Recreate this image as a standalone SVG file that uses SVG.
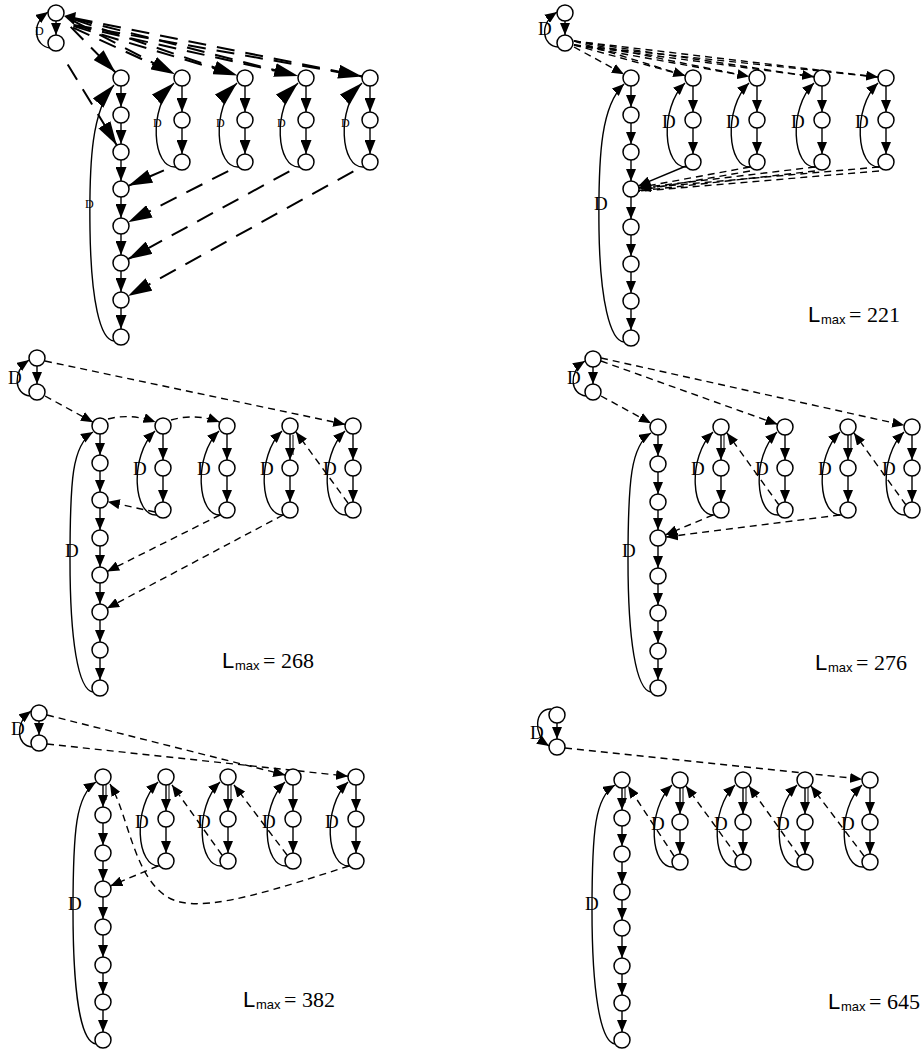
<svg xmlns="http://www.w3.org/2000/svg" width="924" height="1053" viewBox="0 0 924 1053">
<style>
.n{fill:#fff;stroke:#000;stroke-width:1.5}
.e{fill:none;stroke:#000;stroke-width:1.4}
.d{stroke-dasharray:7 5}
.d1{stroke-dasharray:18 11;stroke-dashoffset:18;stroke-width:2}
.t{stroke-width:1}
.ha{marker-end:url(#ma)}
.hb{marker-end:url(#mb)}
.hc{marker-end:url(#mc)}
.D{font-family:"Liberation Serif",serif;font-size:19px;fill:#000}
.sD{font-family:"Liberation Serif",serif;font-size:12px;fill:#000}
.L{font-family:"Liberation Sans",sans-serif;font-size:22px}
.sub{font-family:"Liberation Sans",sans-serif;font-size:13px}
.num{font-family:"Liberation Serif",serif;font-size:22px}
</style>
<defs>
<marker id="ma" viewBox="0 0 12 10" refX="12" refY="5" markerWidth="12" markerHeight="10" markerUnits="userSpaceOnUse" orient="auto"><path d="M0,0 L12,5 L0,10 z" fill="#000"/></marker>
<marker id="mb" viewBox="0 0 24 14" refX="24" refY="7" markerWidth="24" markerHeight="14" markerUnits="userSpaceOnUse" orient="auto"><path d="M0,0 L24,7 L0,14 z" fill="#000"/></marker>
<marker id="mc" viewBox="0 0 14 11" refX="14" refY="5.5" markerWidth="14" markerHeight="11" markerUnits="userSpaceOnUse" orient="auto"><path d="M0,0 L14,5.5 L0,11 z" fill="#000"/></marker>
</defs>
<rect width="924" height="1053" fill="#fff"/>

<g id="connectors">
<!-- Panel 1 -->
<g id="p1-edges">
<path class="e hc" d="M121,86V107"/>
<path class="e hc" d="M121,123V144"/>
<path class="e hc" d="M121,160V181"/>
<path class="e hc" d="M121,197V218"/>
<path class="e hc" d="M121,234V255"/>
<path class="e hc" d="M121,271V292"/>
<path class="e hc" d="M121,308V329"/>
<path class="e hc" d="M182,86V112"/><path class="e hc" d="M182,128V154"/>
<path class="e hc" d="M245,86V112"/><path class="e hc" d="M245,128V154"/>
<path class="e hc" d="M306,86V112"/><path class="e hc" d="M306,128V154"/>
<path class="e hc" d="M370,86V112"/><path class="e hc" d="M370,128V154"/>
<path class="e ha" d="M56,21V35"/>
<path class="e ha" d="M50,48 C35,46 30,25 48,12"/>
<path class="e hb" d="M114,341 C100,340 91,300 90,230 C89,160 92,110 114,85"/>
<path class="e hb" d="M176,167 C152,169 148,108 174,83"/>
<path class="e hb" d="M239,167 C215,169 211,108 237,83"/>
<path class="e hb" d="M300,167 C276,169 272,108 298,83"/>
<path class="e hb" d="M364,167 C340,169 336,108 362,83"/>
<path class="e d1 hb" d="M63,19 L115.4,72.3"/>
<path class="e d1 hb" d="M64,16 L174.9,74.3"/>
<path class="e d1 hb" d="M64,16 L237.4,75.4"/>
<path class="e d1 hb" d="M64,16 L298.2,76"/>
<path class="e d1 hb" d="M64,16 L362.2,76.4"/>
<path class="e d1" d="M63,23 L174.9,74.3"/>
<path class="e d1" d="M63,23 L237.4,75.4"/>
<path class="e d1" d="M63,23 L298.2,76"/>
<path class="e d1" d="M63,23 L362.2,76.4"/>
<path class="e d1 hb" d="M62,55 L116.8,145.2"/>
<path class="e d1 hb" d="M174,166 L128.3,185.8"/>
<path class="e d1 hb" d="M238,166 L128.1,222.3"/>
<path class="e d1 hb" d="M299,166 L128,259.2"/>
<path class="e d1 hb" d="M363,166 L128,296.1"/>
<polygon points="64,16 76,12 74,25" fill="#000"/>
</g>
<!-- Panel 2 -->
<g id="p2-edges">
<path class="e ha" d="M631,86V107"/><path class="e ha" d="M631,123V144"/><path class="e ha" d="M631,160V181"/><path class="e ha" d="M631,197V219"/>
<path class="e ha" d="M631,235V256"/><path class="e ha" d="M631,272V293"/><path class="e ha" d="M631,309V330"/>
<path class="e ha" d="M693,86V112"/><path class="e ha" d="M693,128V154"/>
<path class="e ha" d="M757,86V112"/><path class="e ha" d="M757,128V154"/>
<path class="e ha" d="M822,86V112"/><path class="e ha" d="M822,128V154"/>
<path class="e ha" d="M886,86V112"/><path class="e ha" d="M886,128V154"/>
<path class="e ha" d="M565,21V35"/>
<path class="e ha" d="M558,47 C543,46 538,25 557,12"/>
<path class="e ha" d="M624,342 C610,341 600,300 599,230 C598,150 602,105 624,84"/>
<path class="e ha" d="M687,167 C663,169 659,108 685,83"/>
<path class="e ha" d="M751,167 C727,169 723,108 749,83"/>
<path class="e ha" d="M816,167 C792,169 788,108 814,83"/>
<path class="e ha" d="M880,167 C856,169 852,108 878,83"/>
<path class="e d ha" d="M574,47 L623.9,74.2"/>
<path class="e d ha" d="M574,41 L685.3,75.7"/><path class="e d" d="M574,45 L685.3,75.7"/>
<path class="e d ha" d="M574,41 L749.2,76.5"/><path class="e d" d="M574,45 L749.2,76.5"/>
<path class="e d ha" d="M574,41 L814.1,76.8"/><path class="e d" d="M574,45 L814.1,76.8"/>
<path class="e d ha" d="M574,41 L878.1,77.1"/><path class="e d" d="M574,45 L878.1,77.1"/>
<path class="e ha" d="M686,166 L638.4,185.9"/>
<path class="e d ha" d="M750,167 L638.9,187.5"/><path class="e d" d="M750,171 L638.9,190.5"/>
<path class="e d ha" d="M815,167 L638.9,188"/><path class="e d" d="M815,171 L638.9,191"/>
<path class="e d ha" d="M879,167 L639,188.3"/><path class="e d" d="M879,171 L639,191.3"/>
</g>
<!-- Panel 3 -->
<g id="p3-edges">
<path class="e ha" d="M100,434V455"/><path class="e ha" d="M100,471V492"/><path class="e ha" d="M100,508V530"/><path class="e ha" d="M100,546V567"/>
<path class="e ha" d="M100,583V604"/><path class="e ha" d="M100,620V642"/><path class="e ha" d="M100,658V680"/>
<path class="e ha" d="M163,434V460"/><path class="e ha" d="M163,476V502"/>
<path class="e ha" d="M227,434V460"/><path class="e ha" d="M227,476V502"/>
<path class="e ha" d="M290,434V460"/><path class="e ha" d="M290,476V502"/>
<path class="e ha" d="M353,434V460"/><path class="e ha" d="M353,476V502"/>
<path class="e ha" d="M37,366V384"/>
<path class="e ha" d="M30,396 C14,394 12,372 29,360"/>
<path class="e ha" d="M93,692 C78,690 70,640 70,560 C70,480 72,445 93,432"/>
<path class="e ha" d="M157,515 C133,517 129,456 155,431"/>
<path class="e ha" d="M221,515 C197,517 193,456 219,431"/>
<path class="e ha" d="M284,515 C260,517 256,456 282,431"/>
<path class="e ha" d="M347,515 C323,517 319,456 345,431"/>
<path class="e d ha" d="M45,361 L345.2,424.4"/>
<path class="e d ha" d="M45,396 L93,422.2"/>
<path class="e d ha" d="M108,419 Q130,413 155.5,422"/>
<path class="e d ha" d="M171,420 Q195,413 219.5,422"/>
<path class="e d ha" d="M348,503 L296,432"/>
<path class="e d ha" d="M155,512 L107.8,501.7"/>
<path class="e d ha" d="M220,515 L107.2,571.4"/>
<path class="e d ha" d="M283,515 L107.1,608.3"/>
<path class="e t" d="M293,435V455"/>
</g>
<!-- Panel 4 -->
<g id="p4-edges">
<path class="e ha" d="M658,435V456"/><path class="e ha" d="M658,472V494"/><path class="e ha" d="M658,510V530"/><path class="e ha" d="M658,546V568"/>
<path class="e ha" d="M658,584V605"/><path class="e ha" d="M658,621V643"/><path class="e ha" d="M658,659V680"/>
<path class="e ha" d="M721,435V460"/><path class="e ha" d="M721,476V502"/>
<path class="e ha" d="M785,435V460"/><path class="e ha" d="M785,476V502"/>
<path class="e ha" d="M848,435V460"/><path class="e ha" d="M848,476V502"/>
<path class="e ha" d="M912,435V460"/><path class="e ha" d="M912,476V502"/>
<path class="e ha" d="M593,367V384"/>
<path class="e ha" d="M586,396 C570,394 568,372 585,361"/>
<path class="e ha" d="M651,692 C636,690 628,640 628,560 C628,480 631,445 651,433"/>
<path class="e ha" d="M715,515 C691,517 687,457 713,432"/>
<path class="e ha" d="M779,515 C755,517 751,457 777,432"/>
<path class="e ha" d="M842,515 C818,517 814,457 840,432"/>
<path class="e ha" d="M906,515 C882,517 878,457 904,432"/>
<path class="e d ha" d="M601,361 L777.5,424.3"/>
<path class="e d ha" d="M601,358 L904.2,425.3"/>
<path class="e d ha" d="M601,396 L651,423.2"/>
<path class="e d ha" d="M779,505 L727,433"/>
<path class="e d ha" d="M906,505 L854,433"/>
<path class="e d ha" d="M713,515 L665.4,534.9"/>
<path class="e d ha" d="M840,515 L665.9,537"/>
<path class="e t" d="M724,435V452"/><path class="e t" d="M851,435V452"/>
</g>
<!-- Panel 5 -->
<g id="p5-edges">
<path class="e ha" d="M103,785V807"/><path class="e ha" d="M103,823V845"/><path class="e ha" d="M103,861V881"/><path class="e ha" d="M103,897V919"/>
<path class="e ha" d="M103,935V957"/><path class="e ha" d="M103,973V994"/><path class="e ha" d="M103,1010V1032"/>
<path class="e ha" d="M166,785V811"/><path class="e ha" d="M166,827V853"/>
<path class="e ha" d="M228,785V811"/><path class="e ha" d="M228,827V853"/>
<path class="e ha" d="M293,785V811"/><path class="e ha" d="M293,827V853"/>
<path class="e ha" d="M356,785V811"/><path class="e ha" d="M356,827V853"/>
<path class="e ha" d="M39,721V735"/>
<path class="e ha" d="M32,747 C17,746 14,724 31,711"/>
<path class="e ha" d="M96,1044 C80,1042 73,990 73,910 C73,830 76,795 96,782"/>
<path class="e ha" d="M160,866 C136,868 132,807 158,782"/>
<path class="e ha" d="M222,866 C198,868 194,807 220,782"/>
<path class="e ha" d="M287,866 C263,868 259,807 285,782"/>
<path class="e ha" d="M350,866 C326,868 322,807 348,782"/>
<path class="e d ha" d="M47,715 L285.2,775"/>
<path class="e d ha" d="M47,744 L348,776.2"/>
<path class="e d ha" d="M349,866 C280,888 215,910 180,902 C150,895 138,860 128,830 C122,812 118,798 110,784"/>
<path class="e d ha" d="M158,866 L110.4,885.9"/>
<path class="e d ha" d="M222,855 L172,785"/>
<path class="e d ha" d="M287,855 L234,785"/>
<path class="e t" d="M106,785V800"/><path class="e t" d="M169,785V800"/><path class="e t" d="M231,785V800"/>
</g>
<!-- Panel 6 -->
<g id="p6-edges">
<path class="e ha" d="M622,788V810"/><path class="e ha" d="M622,826V846"/><path class="e ha" d="M622,862V884"/><path class="e ha" d="M622,900V920"/>
<path class="e ha" d="M622,936V958"/><path class="e ha" d="M622,974V995"/><path class="e ha" d="M622,1011V1032"/>
<path class="e ha" d="M680,788V814"/><path class="e ha" d="M680,830V854"/>
<path class="e ha" d="M743,788V814"/><path class="e ha" d="M743,830V854"/>
<path class="e ha" d="M805,788V814"/><path class="e ha" d="M805,830V854"/>
<path class="e ha" d="M870,788V814"/><path class="e ha" d="M870,830V854"/>
<path class="e ha" d="M557,723V739"/>
<path class="e ha" d="M551,709 C535,708 532,735 549,746"/>
<path class="e ha" d="M615,1044 C600,1042 592,990 592,910 C592,830 595,797 615,785"/>
<path class="e ha" d="M674,867 C650,869 646,810 672,785"/>
<path class="e ha" d="M737,867 C713,869 709,810 735,785"/>
<path class="e ha" d="M799,867 C775,869 771,810 797,785"/>
<path class="e ha" d="M864,867 C840,869 836,810 862,785"/>
<path class="e d ha" d="M565,748 L862,779.2"/>
<path class="e d ha" d="M674,856 L628,786"/>
<path class="e d ha" d="M737,856 L686,786"/>
<path class="e d ha" d="M799,856 L749,786"/>
<path class="e d ha" d="M864,856 L811,786"/>
<path class="e t" d="M625,788V803"/><path class="e t" d="M683,788V803"/><path class="e t" d="M746,788V803"/><path class="e t" d="M808,788V803"/>
</g>
</g>

<g id="nodes">
<!-- Panel 1 -->
<g id="p1-a"><circle class="n" cx="56" cy="13" r="8"/></g>
<g id="p1-b"><circle class="n" cx="56" cy="43" r="8"/></g>
<g id="p1-c1-1"><circle class="n" cx="121" cy="78" r="8"/></g>
<g id="p1-c1-2"><circle class="n" cx="121" cy="115" r="8"/></g>
<g id="p1-c1-3"><circle class="n" cx="121" cy="152" r="8"/></g>
<g id="p1-c1-4"><circle class="n" cx="121" cy="189" r="8"/></g>
<g id="p1-c1-5"><circle class="n" cx="121" cy="226" r="8"/></g>
<g id="p1-c1-6"><circle class="n" cx="121" cy="263" r="8"/></g>
<g id="p1-c1-7"><circle class="n" cx="121" cy="300" r="8"/></g>
<g id="p1-c1-8"><circle class="n" cx="121" cy="337" r="8"/></g>
<g id="p1-c2-1"><circle class="n" cx="182" cy="78" r="8"/></g>
<g id="p1-c2-2"><circle class="n" cx="182" cy="120" r="8"/></g>
<g id="p1-c2-3"><circle class="n" cx="182" cy="162" r="8"/></g>
<g id="p1-c3-1"><circle class="n" cx="245" cy="78" r="8"/></g>
<g id="p1-c3-2"><circle class="n" cx="245" cy="120" r="8"/></g>
<g id="p1-c3-3"><circle class="n" cx="245" cy="162" r="8"/></g>
<g id="p1-c4-1"><circle class="n" cx="306" cy="78" r="8"/></g>
<g id="p1-c4-2"><circle class="n" cx="306" cy="120" r="8"/></g>
<g id="p1-c4-3"><circle class="n" cx="306" cy="162" r="8"/></g>
<g id="p1-c5-1"><circle class="n" cx="370" cy="78" r="8"/></g>
<g id="p1-c5-2"><circle class="n" cx="370" cy="120" r="8"/></g>
<g id="p1-c5-3"><circle class="n" cx="370" cy="162" r="8"/></g>
<!-- Panel 2 -->
<g id="p2-a"><circle class="n" cx="565" cy="13" r="8"/></g>
<g id="p2-b"><circle class="n" cx="565" cy="43" r="8"/></g>
<g id="p2-c1-1"><circle class="n" cx="631" cy="78" r="8"/></g>
<g id="p2-c1-2"><circle class="n" cx="631" cy="115" r="8"/></g>
<g id="p2-c1-3"><circle class="n" cx="631" cy="152" r="8"/></g>
<g id="p2-c1-4"><circle class="n" cx="631" cy="189" r="8"/></g>
<g id="p2-c1-5"><circle class="n" cx="631" cy="227" r="8"/></g>
<g id="p2-c1-6"><circle class="n" cx="631" cy="264" r="8"/></g>
<g id="p2-c1-7"><circle class="n" cx="631" cy="301" r="8"/></g>
<g id="p2-c1-8"><circle class="n" cx="631" cy="338" r="8"/></g>
<g id="p2-c2-1"><circle class="n" cx="693" cy="78" r="8"/></g>
<g id="p2-c2-2"><circle class="n" cx="693" cy="120" r="8"/></g>
<g id="p2-c2-3"><circle class="n" cx="693" cy="162" r="8"/></g>
<g id="p2-c3-1"><circle class="n" cx="757" cy="78" r="8"/></g>
<g id="p2-c3-2"><circle class="n" cx="757" cy="120" r="8"/></g>
<g id="p2-c3-3"><circle class="n" cx="757" cy="162" r="8"/></g>
<g id="p2-c4-1"><circle class="n" cx="822" cy="78" r="8"/></g>
<g id="p2-c4-2"><circle class="n" cx="822" cy="120" r="8"/></g>
<g id="p2-c4-3"><circle class="n" cx="822" cy="162" r="8"/></g>
<g id="p2-c5-1"><circle class="n" cx="886" cy="78" r="8"/></g>
<g id="p2-c5-2"><circle class="n" cx="886" cy="120" r="8"/></g>
<g id="p2-c5-3"><circle class="n" cx="886" cy="162" r="8"/></g>
<!-- Panel 3 -->
<g id="p3-a"><circle class="n" cx="37" cy="358" r="8"/></g>
<g id="p3-b"><circle class="n" cx="37" cy="392" r="8"/></g>
<g id="p3-c1-1"><circle class="n" cx="100" cy="426" r="8"/></g>
<g id="p3-c1-2"><circle class="n" cx="100" cy="463" r="8"/></g>
<g id="p3-c1-3"><circle class="n" cx="100" cy="500" r="8"/></g>
<g id="p3-c1-4"><circle class="n" cx="100" cy="538" r="8"/></g>
<g id="p3-c1-5"><circle class="n" cx="100" cy="575" r="8"/></g>
<g id="p3-c1-6"><circle class="n" cx="100" cy="612" r="8"/></g>
<g id="p3-c1-7"><circle class="n" cx="100" cy="650" r="8"/></g>
<g id="p3-c1-8"><circle class="n" cx="100" cy="688" r="8"/></g>
<g id="p3-c2-1"><circle class="n" cx="163" cy="426" r="8"/></g>
<g id="p3-c2-2"><circle class="n" cx="163" cy="468" r="8"/></g>
<g id="p3-c2-3"><circle class="n" cx="163" cy="510" r="8"/></g>
<g id="p3-c3-1"><circle class="n" cx="227" cy="426" r="8"/></g>
<g id="p3-c3-2"><circle class="n" cx="227" cy="468" r="8"/></g>
<g id="p3-c3-3"><circle class="n" cx="227" cy="510" r="8"/></g>
<g id="p3-c4-1"><circle class="n" cx="290" cy="426" r="8"/></g>
<g id="p3-c4-2"><circle class="n" cx="290" cy="468" r="8"/></g>
<g id="p3-c4-3"><circle class="n" cx="290" cy="510" r="8"/></g>
<g id="p3-c5-1"><circle class="n" cx="353" cy="426" r="8"/></g>
<g id="p3-c5-2"><circle class="n" cx="353" cy="468" r="8"/></g>
<g id="p3-c5-3"><circle class="n" cx="353" cy="510" r="8"/></g>
<!-- Panel 4 -->
<g id="p4-a"><circle class="n" cx="593" cy="359" r="8"/></g>
<g id="p4-b"><circle class="n" cx="593" cy="392" r="8"/></g>
<g id="p4-c1-1"><circle class="n" cx="658" cy="427" r="8"/></g>
<g id="p4-c1-2"><circle class="n" cx="658" cy="464" r="8"/></g>
<g id="p4-c1-3"><circle class="n" cx="658" cy="502" r="8"/></g>
<g id="p4-c1-4"><circle class="n" cx="658" cy="538" r="8"/></g>
<g id="p4-c1-5"><circle class="n" cx="658" cy="576" r="8"/></g>
<g id="p4-c1-6"><circle class="n" cx="658" cy="613" r="8"/></g>
<g id="p4-c1-7"><circle class="n" cx="658" cy="651" r="8"/></g>
<g id="p4-c1-8"><circle class="n" cx="658" cy="688" r="8"/></g>
<g id="p4-c2-1"><circle class="n" cx="721" cy="427" r="8"/></g>
<g id="p4-c2-2"><circle class="n" cx="721" cy="468" r="8"/></g>
<g id="p4-c2-3"><circle class="n" cx="721" cy="510" r="8"/></g>
<g id="p4-c3-1"><circle class="n" cx="785" cy="427" r="8"/></g>
<g id="p4-c3-2"><circle class="n" cx="785" cy="468" r="8"/></g>
<g id="p4-c3-3"><circle class="n" cx="785" cy="510" r="8"/></g>
<g id="p4-c4-1"><circle class="n" cx="848" cy="427" r="8"/></g>
<g id="p4-c4-2"><circle class="n" cx="848" cy="468" r="8"/></g>
<g id="p4-c4-3"><circle class="n" cx="848" cy="510" r="8"/></g>
<g id="p4-c5-1"><circle class="n" cx="912" cy="427" r="8"/></g>
<g id="p4-c5-2"><circle class="n" cx="912" cy="468" r="8"/></g>
<g id="p4-c5-3"><circle class="n" cx="912" cy="510" r="8"/></g>
<!-- Panel 5 -->
<g id="p5-a"><circle class="n" cx="39" cy="713" r="8"/></g>
<g id="p5-b"><circle class="n" cx="39" cy="743" r="8"/></g>
<g id="p5-c1-1"><circle class="n" cx="103" cy="777" r="8"/></g>
<g id="p5-c1-2"><circle class="n" cx="103" cy="815" r="8"/></g>
<g id="p5-c1-3"><circle class="n" cx="103" cy="853" r="8"/></g>
<g id="p5-c1-4"><circle class="n" cx="103" cy="889" r="8"/></g>
<g id="p5-c1-5"><circle class="n" cx="103" cy="927" r="8"/></g>
<g id="p5-c1-6"><circle class="n" cx="103" cy="965" r="8"/></g>
<g id="p5-c1-7"><circle class="n" cx="103" cy="1002" r="8"/></g>
<g id="p5-c1-8"><circle class="n" cx="103" cy="1040" r="8"/></g>
<g id="p5-c2-1"><circle class="n" cx="166" cy="777" r="8"/></g>
<g id="p5-c2-2"><circle class="n" cx="166" cy="819" r="8"/></g>
<g id="p5-c2-3"><circle class="n" cx="166" cy="861" r="8"/></g>
<g id="p5-c3-1"><circle class="n" cx="228" cy="777" r="8"/></g>
<g id="p5-c3-2"><circle class="n" cx="228" cy="819" r="8"/></g>
<g id="p5-c3-3"><circle class="n" cx="228" cy="861" r="8"/></g>
<g id="p5-c4-1"><circle class="n" cx="293" cy="777" r="8"/></g>
<g id="p5-c4-2"><circle class="n" cx="293" cy="819" r="8"/></g>
<g id="p5-c4-3"><circle class="n" cx="293" cy="861" r="8"/></g>
<g id="p5-c5-1"><circle class="n" cx="356" cy="777" r="8"/></g>
<g id="p5-c5-2"><circle class="n" cx="356" cy="819" r="8"/></g>
<g id="p5-c5-3"><circle class="n" cx="356" cy="861" r="8"/></g>
<!-- Panel 6 -->
<g id="p6-a"><circle class="n" cx="557" cy="715" r="8"/></g>
<g id="p6-b"><circle class="n" cx="557" cy="747" r="8"/></g>
<g id="p6-c1-1"><circle class="n" cx="622" cy="780" r="8"/></g>
<g id="p6-c1-2"><circle class="n" cx="622" cy="818" r="8"/></g>
<g id="p6-c1-3"><circle class="n" cx="622" cy="854" r="8"/></g>
<g id="p6-c1-4"><circle class="n" cx="622" cy="892" r="8"/></g>
<g id="p6-c1-5"><circle class="n" cx="622" cy="928" r="8"/></g>
<g id="p6-c1-6"><circle class="n" cx="622" cy="966" r="8"/></g>
<g id="p6-c1-7"><circle class="n" cx="622" cy="1003" r="8"/></g>
<g id="p6-c1-8"><circle class="n" cx="622" cy="1040" r="8"/></g>
<g id="p6-c2-1"><circle class="n" cx="680" cy="780" r="8"/></g>
<g id="p6-c2-2"><circle class="n" cx="680" cy="822" r="8"/></g>
<g id="p6-c2-3"><circle class="n" cx="680" cy="862" r="8"/></g>
<g id="p6-c3-1"><circle class="n" cx="743" cy="780" r="8"/></g>
<g id="p6-c3-2"><circle class="n" cx="743" cy="822" r="8"/></g>
<g id="p6-c3-3"><circle class="n" cx="743" cy="862" r="8"/></g>
<g id="p6-c4-1"><circle class="n" cx="805" cy="780" r="8"/></g>
<g id="p6-c4-2"><circle class="n" cx="805" cy="822" r="8"/></g>
<g id="p6-c4-3"><circle class="n" cx="805" cy="862" r="8"/></g>
<g id="p6-c5-1"><circle class="n" cx="870" cy="780" r="8"/></g>
<g id="p6-c5-2"><circle class="n" cx="870" cy="822" r="8"/></g>
<g id="p6-c5-3"><circle class="n" cx="870" cy="862" r="8"/></g>
</g>

<g id="edge-labels">
<text class="sD" x="35" y="35">D</text>
<text class="sD" x="85" y="208">D</text>
<text class="sD" x="153" y="127">D</text><text class="sD" x="216" y="127">D</text><text class="sD" x="277" y="127">D</text><text class="sD" x="341" y="127">D</text>
<text class="D" x="538" y="35">D</text>
<text class="D" x="594" y="210">D</text>
<text class="D" x="662" y="128">D</text><text class="D" x="726" y="128">D</text><text class="D" x="791" y="128">D</text><text class="D" x="855" y="128">D</text>
<text class="D" x="8" y="384">D</text>
<text class="D" x="65" y="557">D</text>
<text class="D" x="133" y="475">D</text><text class="D" x="197" y="475">D</text><text class="D" x="260" y="475">D</text><text class="D" x="323" y="475">D</text>
<text class="D" x="567" y="384">D</text>
<text class="D" x="622" y="557">D</text>
<text class="D" x="691" y="475">D</text><text class="D" x="755" y="475">D</text><text class="D" x="818" y="475">D</text><text class="D" x="882" y="475">D</text>
<text class="D" x="11" y="735">D</text>
<text class="D" x="68" y="910">D</text>
<text class="D" x="135" y="828">D</text><text class="D" x="197" y="828">D</text><text class="D" x="262" y="828">D</text><text class="D" x="325" y="828">D</text>
<text class="D" x="530" y="739">D</text>
<text class="D" x="585" y="910">D</text>
<text class="D" x="651" y="830">D</text><text class="D" x="714" y="830">D</text><text class="D" x="776" y="830">D</text><text class="D" x="841" y="830">D</text>
</g>

<g id="captions">
<text class="L" x="808" y="322">L</text><text class="sub" x="821" y="324">max</text><text class="num" x="849" y="322">= 221</text>
<text class="L" x="222" y="668">L</text><text class="sub" x="235" y="670">max</text><text class="num" x="263" y="668">= 268</text>
<text class="L" x="815" y="670">L</text><text class="sub" x="828" y="672">max</text><text class="num" x="856" y="670">= 276</text>
<text class="L" x="243" y="1007">L</text><text class="sub" x="256" y="1009">max</text><text class="num" x="284" y="1007">= 382</text>
<text class="L" x="828" y="1009">L</text><text class="sub" x="841" y="1011">max</text><text class="num" x="869" y="1009">= 645</text>
</g>
</svg>
